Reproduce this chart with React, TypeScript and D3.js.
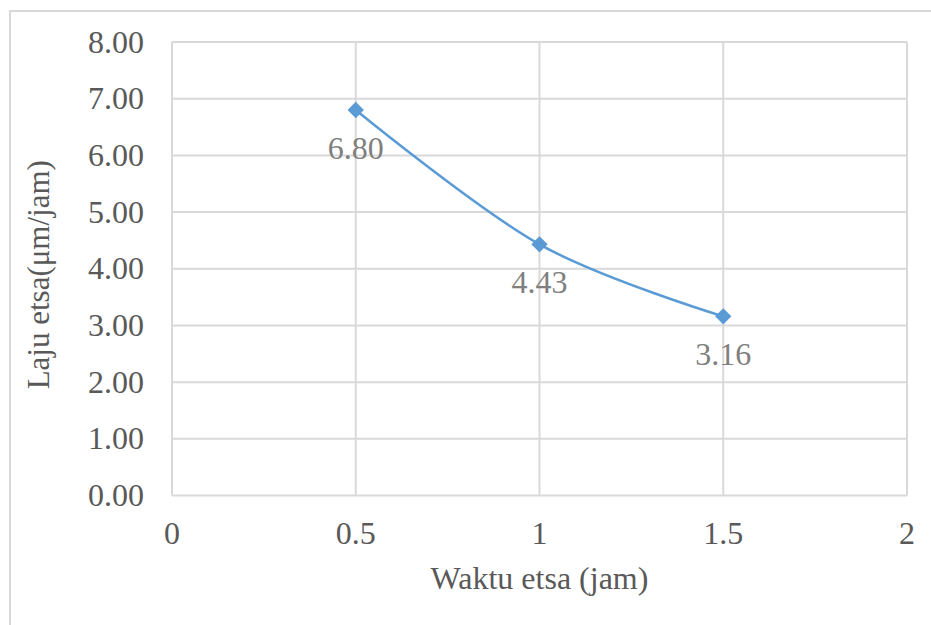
import React from "react";
import * as d3 from "d3";

const xValues = [0.5, 1, 1.5];
const yValues = [6.8, 4.43, 3.16];
const xTicks = [0, 0.5, 1, 1.5, 2];
const yTicks = [0, 1, 2, 3, 4, 5, 6, 7, 8];
const xTitle = "Waktu etsa (jam)";
const yTitle = "Laju etsa(μm/jam)";

const W = 931;
const H = 625;
const left = 172;
const right = 907;
const top = 42;
const bottom = 495.5;
const FONT = "'Liberation Serif', 'Times New Roman', serif";
const FS = 32;

export default function App() {
  const x = d3.scaleLinear().domain([0, 2]).range([left, right]);
  const y = d3.scaleLinear().domain([0, 8]).range([bottom, top]);
  const pts = xValues.map((v, i) => [x(v), y(yValues[i])] as [number, number]);
  const line = d3.line().curve(d3.curveCardinal.tension(0))(pts) || "";
  const diamond = d3.symbol().type(d3.symbolDiamond2).size(170)() || "";
  const grid = "#d9d9d9";
  return (
    <svg width={W} height={H} style={{ position: "absolute", left: 0, top: 0, background: "#fff" }}>
      <rect x={10} y={11} width={W + 20} height={H + 20} fill="#fff" stroke={grid} strokeWidth={2} />
      {yTicks.map((t) => (
        <line key={"gy" + t} x1={left} x2={right} y1={y(t)} y2={y(t)} stroke={grid} strokeWidth={2} />
      ))}
      {xTicks.map((t) => (
        <line key={"gx" + t} x1={x(t)} x2={x(t)} y1={top} y2={bottom} stroke={grid} strokeWidth={2} />
      ))}
      {yTicks.map((t) => (
        <text key={"ty" + t} x={144} y={y(t)} dy="0.33em" textAnchor="end" fontFamily={FONT} fontSize={FS} fill="#595959">
          {t.toFixed(2)}
        </text>
      ))}
      {xTicks.map((t) => (
        <text key={"tx" + t} x={x(t)} y={544} textAnchor="middle" fontFamily={FONT} fontSize={FS} fill="#595959">
          {String(t)}
        </text>
      ))}
      <path d={line} fill="none" stroke="#5b9bd5" strokeWidth={2.5} />
      {pts.map((p, i) => (
        <path key={"m" + i} d={diamond} transform={`translate(${p[0]},${p[1]})`} fill="#5b9bd5" />
      ))}
      {pts.map((p, i) => (
        <text key={"l" + i} x={p[0]} y={p[1] + 49} textAnchor="middle" fontFamily={FONT} fontSize={FS} fill="#7f7f7f">
          {yValues[i].toFixed(2)}
        </text>
      ))}
      <text x={(left + right) / 2} y={589} textAnchor="middle" fontFamily={FONT} fontSize={FS} fill="#595959">
        {xTitle}
      </text>
      <text transform={`translate(49, ${(top + bottom) / 2 + 6}) rotate(-90)`} textAnchor="middle" fontFamily={FONT} fontSize={31} fill="#595959">
        {yTitle}
      </text>
    </svg>
  );
}
